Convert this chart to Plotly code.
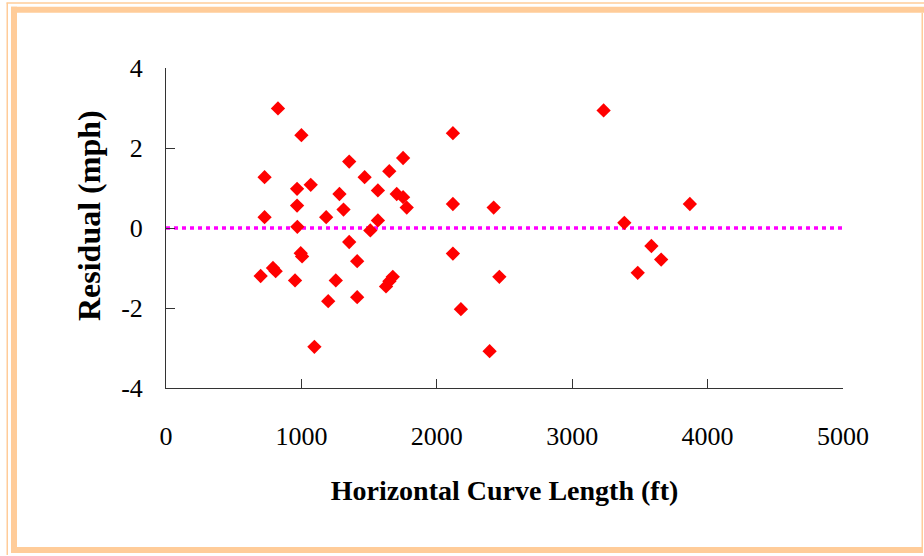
import plotly.graph_objects as go

# residuals vs horizontal curve length
curve_length_ft = [
    827, 1000, 2119, 1353, 1751, 728, 1467, 1649, 968, 1069,
    1281, 1565, 1704, 1751, 1778, 2119, 968, 728, 1183, 1311,
    1565, 970, 1509, 1353, 2119, 995, 1005, 1412, 699, 790,
    810, 953, 1254, 1675, 1650, 1625, 1198, 1412, 2178, 1096,
    3232, 2420, 3869, 3385, 3585, 3657, 3484, 2462, 2390,
]
residual_mph = [
    2.99, 2.32, 2.37, 1.66, 1.75, 1.27, 1.27, 1.42, 0.98, 1.08,
    0.85, 0.94, 0.85, 0.77, 0.51, 0.60, 0.56, 0.27, 0.27, 0.46,
    0.19, 0.03, -0.06, -0.35, -0.64, -0.63, -0.71, -0.83, -1.20, -1.00,
    -1.08, -1.31, -1.31, -1.22, -1.33, -1.46, -1.83, -1.73, -2.03, -2.97,
    2.94, 0.51, 0.60, 0.13, -0.45, -0.79, -1.12, -1.22, -3.08,
]
zero_line_x = [0, 5000]
zero_line_y = [0, 0]
x_ticks = [0, 1000, 2000, 3000, 4000, 5000]
y_ticks = [-4, -2, 0, 2, 4]
y_tick_text = ["-4", "-2", "0", "2", "4"]

W, H = 924, 556
L, R, T, B = 166, 81, 67.5, 167.5
pw, ph = W - L - R, H - T - B


def px(x):
    return (x - L) / pw


def py(y):
    return (H - B - y) / ph


fig = go.Figure()
fig.add_trace(go.Scatter(
    x=zero_line_x, y=zero_line_y, mode="lines",
    line=dict(color="#FF00FF", width=3.5, dash="4px,4px"),
    hoverinfo="skip",
))
fig.add_trace(go.Scatter(
    x=curve_length_ft, y=residual_mph, mode="markers",
    marker=dict(symbol="diamond", size=11, color="#FF0000", line=dict(width=0)),
))

peach = "#FFCC99"
# frame around the chart (left/top edges doubled, right/bottom cropped)
bands = [
    (6.5, 8, 2, 556),
    (6.5, 924, 1.5, 3),
    (11, 17, 6, 554),
    (11, 924, 6, 12),
    (11, 923, 548, 554),
    (921.5, 923, 12, 548),
]
for x0, x1, y0, y1 in bands:
    fig.add_shape(type="rect", xref="paper", yref="paper",
                  x0=px(x0), x1=px(x1), y0=py(y1), y1=py(y0),
                  fillcolor=peach, line=dict(width=0), layer="below")

font = "Liberation Serif, Times New Roman, serif"

# y title as annotation so it can sit a little above the plot centre
fig.add_annotation(
    text="<b>Residual (mph)</b>", textangle=-90, showarrow=False,
    xref="paper", yref="paper", x=px(89), y=py(216),
    xanchor="center", yanchor="middle",
    font=dict(family=font, size=32, color="black"),
)

fig.update_layout(
    width=W, height=H,
    margin=dict(l=L, r=R, t=T, b=B),
    paper_bgcolor="white", plot_bgcolor="white",
    showlegend=False,
    font=dict(family=font, color="black", size=26),
    xaxis=dict(
        range=[0, 5000], tickvals=x_ticks, ticks="inside", ticklen=9,
        tickcolor="#333333", showline=True, linecolor="#333333", linewidth=1,
        showgrid=False, zeroline=False, ticklabelstandoff=25,
        tickfont=dict(family=font, size=26),
        title=dict(text="<b>Horizontal Curve Length (ft)</b>",
                   font=dict(family=font, size=28), standoff=30),
    ),
    yaxis=dict(
        range=[-4, 4], tickvals=y_ticks, ticktext=y_tick_text,
        ticks="inside", ticklen=9,
        tickcolor="#333333", showline=True, linecolor="#333333", linewidth=1,
        showgrid=False, zeroline=False, ticklabelstandoff=17,
        tickfont=dict(family=font, size=26),
    ),
)

fig.write_html("out.html", config={"displayModeBar": False},
               post_script="document.body.style.margin='0';")
